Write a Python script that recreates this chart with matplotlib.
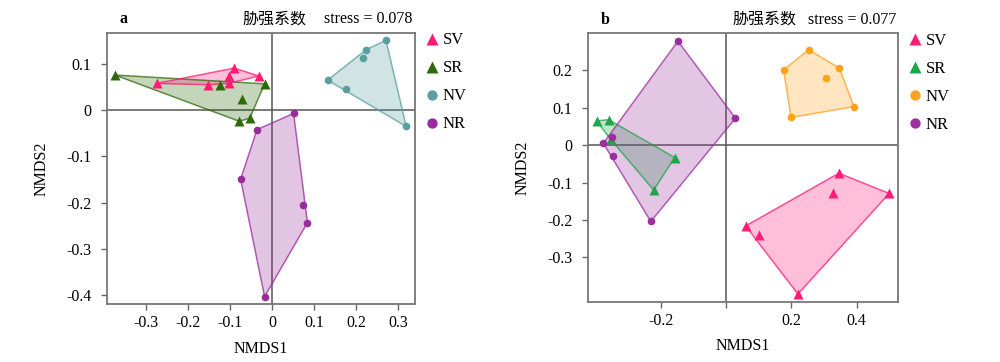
import matplotlib
matplotlib.use("Agg")
import matplotlib.pyplot as plt
from matplotlib.patches import Polygon
import numpy as np

plt.rcParams['font.family'] = ['Liberation Serif', 'Noto Sans CJK SC']

groups = ['SV', 'SR', 'NV', 'NR']
markers = {'SV': '^', 'SR': '^', 'NV': 'o', 'NR': 'o'}

# panel a
a_sv_x = [-0.275, -0.090, -0.103, -0.032, -0.153, -0.103]
a_sv_y = [0.058, 0.091, 0.074, 0.074, 0.055, 0.058]
a_sr_x = [-0.374, -0.125, -0.018, -0.071, -0.078, -0.053]
a_sr_y = [0.076, 0.055, 0.057, 0.024, -0.024, -0.017]
a_nv_x = [0.271, 0.224, 0.216, 0.132, 0.175, 0.319]
a_nv_y = [0.151, 0.131, 0.113, 0.065, 0.045, -0.035]
a_nr_x = [0.051, -0.036, -0.075, 0.073, 0.084, -0.018]
a_nr_y = [-0.007, -0.042, -0.149, -0.204, -0.243, -0.403]

# panel b
b_sv_x = [0.345, 0.326, 0.499, 0.060, 0.101, 0.220]
b_sv_y = [-0.075, -0.127, -0.129, -0.216, -0.240, -0.398]
b_sr_x = [-0.396, -0.359, -0.353, -0.157, -0.221]
b_sr_y = [0.065, 0.068, 0.016, -0.033, -0.120]
b_nv_x = [0.253, 0.176, 0.347, 0.307, 0.391, 0.199]
b_nv_y = [0.255, 0.201, 0.206, 0.179, 0.103, 0.074]
b_nr_x = [-0.147, 0.029, -0.350, -0.375, -0.347, -0.230]
b_nr_y = [0.278, 0.072, 0.023, 0.005, -0.030, -0.204]

a_colors = {'SV': '#FF1A74', 'SR': '#2F6A0A', 'NV': '#5A9EA0', 'NR': '#9A2B9C'}
b_colors = {'SV': '#FF1B79', 'SR': '#20A64A', 'NV': '#FFA21D', 'NR': '#9B2F9F'}


def hull(xs, ys):
    pts = sorted(set(zip(xs, ys)))

    def cross(o, a, b):
        return (a[0] - o[0]) * (b[1] - o[1]) - (a[1] - o[1]) * (b[0] - o[0])

    lower, upper = [], []
    for p in pts:
        while len(lower) >= 2 and cross(lower[-2], lower[-1], p) <= 0:
            lower.pop()
        lower.append(p)
    for p in reversed(pts):
        while len(upper) >= 2 and cross(upper[-2], upper[-1], p) <= 0:
            upper.pop()
        upper.append(p)
    return lower[:-1] + upper[:-1]


def panel(ax, data, colors, xlim, ylim, xticks, xlabels, yticks, ylabels,
          letter, stress, order, pos):
    ax.axhline(0, color='#555555', lw=1.1, zorder=1)
    ax.axvline(0, color='#555555', lw=1.1, zorder=1)
    for g in order:
        xs, ys = data[g]
        c = colors[g]
        poly = Polygon(hull(xs, ys), closed=True, facecolor=c, alpha=0.28,
                       edgecolor='none', zorder=2)
        ax.add_patch(poly)
        edge = Polygon(hull(xs, ys), closed=True, facecolor='none',
                       edgecolor=c, alpha=0.75, lw=1.1, zorder=3)
        ax.add_patch(edge)
    for g in groups:
        xs, ys = data[g]
        ms = 6.5 if markers[g] == '^' else 5.5
        ax.plot(xs, ys, markers[g], color=colors[g], ms=ms, mec='none',
                label=g, zorder=4)
    ax.set_xlim(*xlim)
    ax.set_ylim(*ylim)
    ax.set_xticks(xticks)
    ax.set_xticklabels(xlabels)
    ax.set_yticks(yticks)
    ax.set_yticklabels(ylabels)
    ax.tick_params(labelsize=11.5, color='#666666', length=4, width=1)
    ax.tick_params(axis='y', pad=7)
    ax.tick_params(axis='x', pad=4)
    for s in ax.spines.values():
        s.set_color('#777777')
        s.set_linewidth(1.3)
    ax.set_xlabel('NMDS1', fontsize=11.5, labelpad=7)
    ax.set_ylabel('NMDS2', fontsize=11.5, labelpad=12)
    ax.text(pos[0], 1.035, letter, transform=ax.transAxes, fontsize=11.5,
            fontweight='bold', va='baseline')
    ax.text(pos[1], 1.035, '胁强系数', transform=ax.transAxes,
            fontsize=11.5, ha='right', va='baseline', fontweight='light')
    ax.text(pos[2], 1.035, 'stress = ' + stress, transform=ax.transAxes,
            fontsize=11.5, ha='right', va='baseline')
    ax.legend(loc='upper left', bbox_to_anchor=(1.0, 1.045), frameon=False,
              fontsize=12, handlelength=0.6, handletextpad=0.35,
              labelspacing=0.72, borderaxespad=0.3, markerscale=1.35)


fig = plt.figure(figsize=(10, 3.62), dpi=100)
ax1 = fig.add_axes([0.107, 0.160, 0.308, 0.749])
ax2 = fig.add_axes([0.588, 0.167, 0.310, 0.741])

panel(ax1,
      {'SV': (a_sv_x, a_sv_y), 'SR': (a_sr_x, a_sr_y),
       'NV': (a_nv_x, a_nv_y), 'NR': (a_nr_x, a_nr_y)},
      a_colors, (-0.393, 0.340), (-0.419, 0.167),
      [-0.3, -0.2, -0.1, 0, 0.1, 0.2, 0.3],
      ['-0.3', '-0.2', '-0.1', '0', '0.1', '0.2', '0.3'],
      [-0.4, -0.3, -0.2, -0.1, 0, 0.1],
      ['-0.4', '-0.3', '-0.2', '-0.1', '0', '0.1'],
      'a', '0.078', ['SR', 'SV', 'NV', 'NR'], (0.04, 0.649, 0.99))

panel(ax2,
      {'SV': (b_sv_x, b_sv_y), 'SR': (b_sr_x, b_sr_y),
       'NV': (b_nv_x, b_nv_y), 'NR': (b_nr_x, b_nr_y)},
      b_colors, (-0.422, 0.526), (-0.418, 0.299),
      [-0.2, 0, 0.2, 0.4], ['-0.2', '', '0.2', '0.4'],
      [-0.3, -0.2, -0.1, 0, 0.1, 0.2],
      ['-0.3', '-0.2', '-0.1', '0', '0.1', '0.2'],
      'b', '0.077', ['SR', 'NR', 'SV', 'NV'], (0.04, 0.672, 0.996))

fig.savefig('out.png', dpi=100)
